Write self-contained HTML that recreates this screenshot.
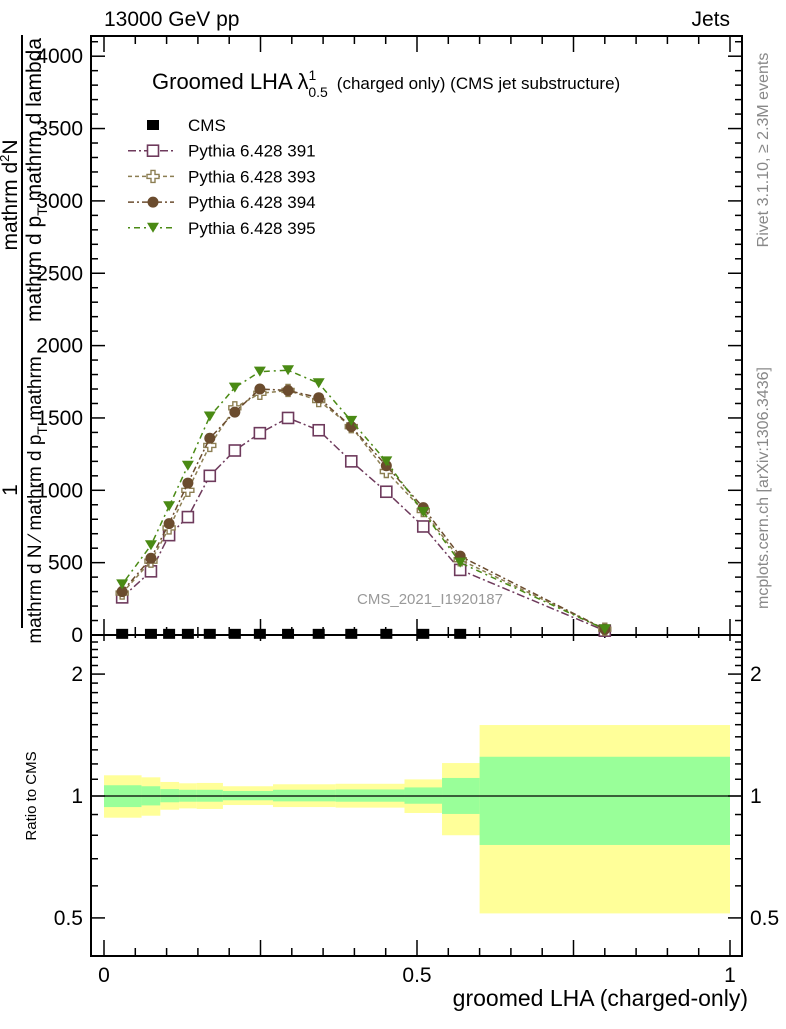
<!DOCTYPE html>
<html><head><meta charset="utf-8"><style>
body{margin:0;background:#fff}
svg text{font-family:"Liberation Sans",sans-serif}
</style></head><body>
<svg id="chart" width="786" height="1024" viewBox="0 0 786 1024" xmlns="http://www.w3.org/2000/svg">
<g id="bands"></g>
<g id="axes"></g>
<g id="series"></g>
<text x="104" y="26" font-size="21">13000 GeV pp</text>
<text x="730" y="26" font-size="21" text-anchor="end">Jets</text>
<text x="152" y="89" font-size="22">Groomed LHA λ<tspan font-size="14" dy="-9">1</tspan><tspan font-size="14" dx="-8" dy="17">0.5</tspan><tspan font-size="17" dx="9" dy="-8">(charged only) (CMS jet substructure)</tspan></text>
<text x="430" y="604" font-size="15" fill="#999" text-anchor="middle">CMS_2021_I1920187</text>
<text transform="translate(768,150) rotate(-90)" font-size="16" fill="#888" text-anchor="middle">Rivet 3.1.10, ≥ 2.3M events</text>
<text transform="translate(768,488) rotate(-90)" font-size="16" fill="#888" text-anchor="middle">mcplots.cern.ch [arXiv:1306.3436]</text>
<g font-size="21">
<line x1="22" y1="35" x2="22" y2="628" stroke="#000" stroke-width="2"/>
<text transform="translate(17,490) rotate(-90)" text-anchor="middle">1</text>
<text transform="translate(41,500) rotate(-90)" text-anchor="middle" font-size="19">mathrm d N ⁄ mathrm d p<tspan font-size="14" dy="6">T</tspan><tspan dy="-6"> mathrm</tspan></text>
<text transform="translate(17,195) rotate(-90)" text-anchor="middle">mathrm d<tspan font-size="13" dy="-8">2</tspan><tspan dy="8">N</tspan></text>
<text transform="translate(41,180) rotate(-90)" text-anchor="middle">mathrm d p<tspan font-size="14" dy="6">T</tspan><tspan dy="-6"> mathrm d lambda</tspan></text>
</g>
<text transform="translate(36,796) rotate(-90)" font-size="15" text-anchor="middle">Ratio to CMS</text>
<text x="748" y="1006" font-size="23" text-anchor="end">groomed LHA (charged-only)</text>
<g id="legend"></g>
</svg>
<script>
const xs = [0.029,0.075,0.104,0.134,0.169,0.209,0.249,0.294,0.343,0.395,0.451,0.51,0.569,0.8];
const cms = [8,8,8,8,8,8,8,8,8,8,8,8,8,30];
const p391 = [260,440,690,815,1100,1275,1395,1500,1415,1200,990,750,450,30];
const p393 = [290,510,740,1000,1310,1570,1670,1690,1620,1440,1130,860,520,40];
const p394 = [300,530,770,1050,1360,1540,1700,1690,1640,1440,1170,880,545,40];
const p395 = [350,620,890,1170,1510,1710,1820,1830,1740,1480,1200,850,500,40];
const bandEdges = [0,0.06,0.09,0.12,0.148,0.19,0.27,0.37,0.48,0.54,0.60,1.0];
const yelHi = [1.125,1.112,1.083,1.075,1.077,1.057,1.069,1.072,1.099,1.206,1.497];
const yelLo = [0.884,0.894,0.925,0.932,0.929,0.95,0.939,0.936,0.908,0.80,0.513];
const grnHi = [1.063,1.057,1.04,1.036,1.036,1.029,1.036,1.038,1.05,1.108,1.25];
const grnLo = [0.939,0.948,0.965,0.968,0.968,0.976,0.97,0.968,0.957,0.903,0.757];
const yTicks = [0,500,1000,1500,2000,2500,3000,3500,4000];
const xTicks = [0,0.5,1];
const rTicks = [0.5,1,2];

const NS="http://www.w3.org/2000/svg";
const L=91,R=742,T=36,MB=635,BB=956;
const X=v=>104+626*v;
const Y=v=>635-0.1447*v;
const RY=v=>796-405*Math.log10(v);
function mk(p,tag,a){const e=document.createElementNS(NS,tag);for(const k in a)e.setAttribute(k,a[k]);p.appendChild(e);return e;}
const bands=document.getElementById('bands'),axes=document.getElementById('axes'),ser=document.getElementById('series'),leg=document.getElementById('legend');
for(let i=0;i<yelHi.length;i++){
 const x0=X(bandEdges[i]),x1=X(bandEdges[i+1]);
 const y=mk(bands,'rect',{x:x0,y:RY(yelHi[i]),width:x1-x0,height:RY(yelLo[i])-RY(yelHi[i]),fill:'#ffff99'});
 
 
 const g=mk(bands,'rect',{x:x0,y:RY(grnHi[i]),width:x1-x0,height:RY(grnLo[i])-RY(grnHi[i]),fill:'#99ff99'});
 
 
}
mk(axes,'line',{x1:L,y1:RY(1),x2:R,y2:RY(1),stroke:'#000','stroke-width':1.2});
mk(axes,'rect',{x:L,y:T,width:R-L,height:BB-T,fill:'none',stroke:'#000','stroke-width':2});
mk(axes,'line',{x1:L,y1:MB,x2:R,y2:MB,stroke:'#000','stroke-width':2});
for(let v=0;v<=4100;v+=100){const maj=v%500===0;const y=Y(v);
 mk(axes,'line',{x1:L,y1:y,x2:L+(maj?14:7),y2:y,stroke:'#000','stroke-width':1.5});
 mk(axes,'line',{x1:R,y1:y,x2:R-(maj?14:7),y2:y,stroke:'#000','stroke-width':1.5});}
yTicks.forEach(v=>{const t=mk(axes,'text',{x:83,y:Y(v)+7,'font-size':21,'text-anchor':'end'});t.textContent=v;
 
 });
for(let i=0;i<=20;i++){const v=i*0.05;const maj=i%5===0;const x=X(v);
 [[MB,-1],[BB,-1],[T,1]].forEach(([y0,d])=>mk(axes,'line',{x1:x,y1:y0,x2:x,y2:y0+d*(maj?16:8),stroke:'#000','stroke-width':1.5}));
 mk(axes,'line',{x1:x,y1:MB,x2:x,y2:MB+(maj?6:3),stroke:'#000','stroke-width':1.5});}
xTicks.forEach(v=>{const t=mk(axes,'text',{x:X(v),y:982,'font-size':21,'text-anchor':'middle'});t.textContent=v;
 
 });
[0.5,0.6,0.7,0.8,0.9,1,2].forEach(v=>{const maj=[0.5,1,2].includes(v);const y=RY(v);
 mk(axes,'line',{x1:L,y1:y,x2:L+(maj?14:7),y2:y,stroke:'#000','stroke-width':1.5});
 mk(axes,'line',{x1:R,y1:y,x2:R-(maj?14:7),y2:y,stroke:'#000','stroke-width':1.5});});
[1.1,1.2,1.3,1.4,1.5,1.6,1.7,1.8,1.9,2.1,2.2,2.3,2.4].forEach(v=>{const y=RY(v);
 mk(axes,'line',{x1:L,y1:y,x2:L+7,y2:y,stroke:'#000','stroke-width':1.5});
 mk(axes,'line',{x1:R,y1:y,x2:R-7,y2:y,stroke:'#000','stroke-width':1.5});});
rTicks.forEach(v=>{const a=mk(axes,'text',{x:83,y:RY(v)+7,'font-size':21,'text-anchor':'end'});a.textContent=v;
 
 
 const b=mk(axes,'text',{x:750,y:RY(v)+7,'font-size':21});b.textContent=v;
 
 });
function marker(p,kind,x,y,c){
 if(kind==='sq')return mk(p,'rect',{x:x-5.5,y:y-5.5,width:11,height:11,fill:'#fff',stroke:c,'stroke-width':1.6});
 if(kind==='cross')return mk(p,'path',{d:`M${x-2},${y-6}h4v4h4v4h-4v4h-4v-4h-4v-4h4z`,fill:'#fff',stroke:c,'stroke-width':1.4});
 if(kind==='circ')return mk(p,'circle',{cx:x,cy:y,r:5.5,fill:c});
 if(kind==='tri')return mk(p,'path',{d:`M${x-6},${y-5}h12l-6,10z`,fill:c});
 return mk(p,'rect',{x:x-6,y:y-5,width:12,height:10,fill:c});
}
const S=[[p391,'sq','#6e3a5c','8,3,2,3','pythia-391'],[p393,'cross','#8c7e52','4,3','pythia-393'],[p394,'circ','#6b4c2e','6,3,2,3','pythia-394'],[p395,'tri','#4a8a14','2,4,6,4','pythia-395']];
const cg=mk(ser,'g',{});
xs.forEach((x,i)=>{const m=marker(cg,'cms',X(x),Y(cms[i]),'#000');});
S.forEach(([d,k,c,da,nm])=>{
 const g=mk(ser,'g',{});
 mk(g,'polyline',{points:xs.map((x,i)=>X(x)+','+Y(d[i])).join(' '),fill:'none',stroke:c,'stroke-width':1.5,'stroke-dasharray':da});
 xs.forEach((x,i)=>{const m=marker(g,k,X(x),Y(d[i]),c);});
});
const LE=[['CMS','cms','#000',null],['Pythia 6.428 391','sq','#6e3a5c','8,3,2,3'],['Pythia 6.428 393','cross','#8c7e52','4,3'],['Pythia 6.428 394','circ','#6b4c2e','6,3,2,3'],['Pythia 6.428 395','tri','#4a8a14','2,4,6,4']];
LE.forEach(([t,k,c,da],i)=>{const y=125+25.7*i;
 const g=mk(leg,'g',{});
 if(da)mk(g,'line',{x1:128,y1:y,x2:174,y2:y,stroke:c,'stroke-width':1.5,'stroke-dasharray':da});
 marker(g,k,153,y,c);
 const tx=mk(g,'text',{x:188,y:y+6,'font-size':17});tx.textContent=t;});
</script>
</body></html>
